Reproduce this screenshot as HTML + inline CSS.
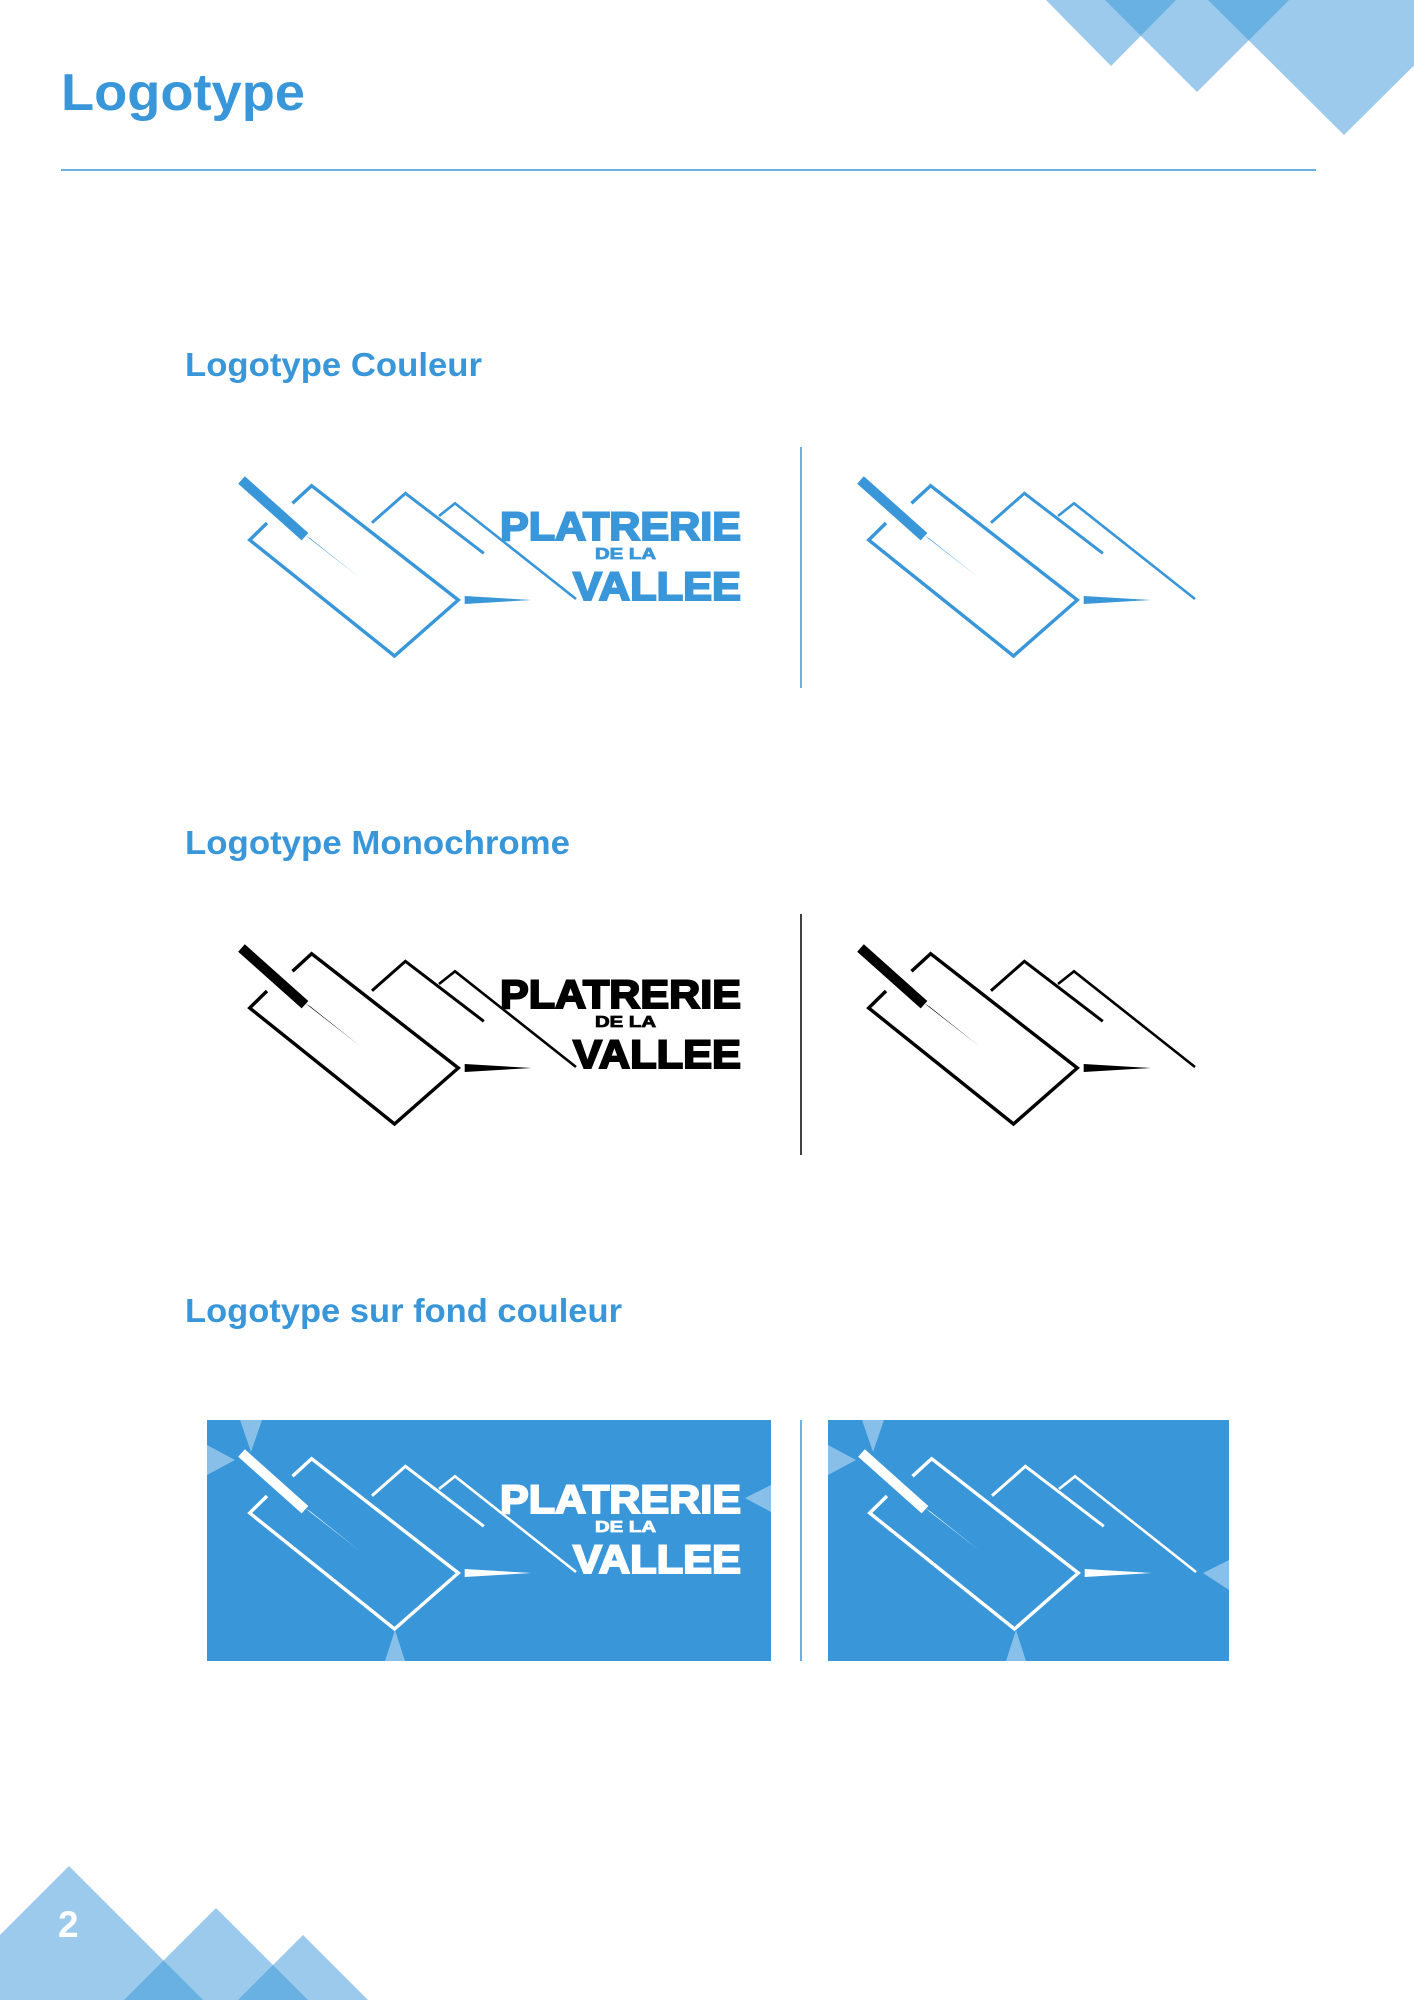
<!DOCTYPE html>
<html><head><meta charset="utf-8"><style>html,body{margin:0;padding:0;background:#fff}svg{display:block}</style></head>
<body>
<svg width="1414" height="2000" viewBox="0 0 1414 2000" xmlns="http://www.w3.org/2000/svg" font-family="Liberation Sans, sans-serif">
<defs>
<g id="icon">
  <line x1="241.5" y1="480" x2="305" y2="536.7" stroke-width="10"/>
  <polygon points="305.5,535.5 310.5,538.5 360,578" stroke="none"/>
  <polyline points="292.5,503.3 311.6,485.7 458.3,600 394.5,656 249.7,540 267,523" fill="none" stroke-width="3.4"/>
  <polyline points="372,522.7 405.4,493.3 483.8,553.3" fill="none" stroke-width="3"/>
  <polyline points="439,516 455,503.3 576,599" fill="none" stroke-width="2.6"/>
  <polygon points="464.7,596 531.6,600 464.7,604" stroke="none"/>
</g>
</defs>
<g fill="#3896d9" fill-opacity="0.5">
  <polygon points="1046,0 1176,0 1111,66"/>
  <polygon points="1105,0 1289,0 1197,92"/>
  <polygon points="1208,0 1480,0 1344,135"/>
  <polygon points="-65,2000 69,1866 203,2000"/>
  <polygon points="124,2000 216,1908 308,2000"/>
  <polygon points="238,2000 303,1935 368,2000"/>
</g>
<text x="61" y="110" font-size="52" font-weight="bold" fill="#3896d9" textLength="244" lengthAdjust="spacingAndGlyphs">Logotype</text>
<line x1="61" y1="170" x2="1316" y2="170" stroke="#3896d9" stroke-width="1.5"/>
<text x="58" y="1937" font-size="37" font-weight="bold" fill="#fff">2</text>

<g font-size="33" font-weight="bold" fill="#3896d9">
<text x="185" y="376" textLength="297" lengthAdjust="spacingAndGlyphs">Logotype Couleur</text>
<text x="185" y="854" textLength="385" lengthAdjust="spacingAndGlyphs">Logotype Monochrome</text>
<text x="185" y="1322" textLength="437" lengthAdjust="spacingAndGlyphs">Logotype sur fond couleur</text>
</g>

<g fill="#3896d9" stroke="#3896d9">
  <use href="#icon"/>
  <use href="#icon" transform="translate(619,0)"/>
  <g font-weight="bold" stroke-width="2">
  <text x="500" y="540" font-size="40" textLength="241" lengthAdjust="spacingAndGlyphs">PLATRERIE</text>
  <text x="595" y="559" font-size="16" stroke-width="0.8" textLength="61" lengthAdjust="spacingAndGlyphs">DE LA</text>
  <text x="573" y="600" font-size="40" textLength="168" lengthAdjust="spacingAndGlyphs">VALLEE</text>
  </g>
</g>
<line x1="801" y1="447" x2="801" y2="688" stroke="#3896d9" stroke-width="1.5"/>

<g fill="#000" stroke="#000" transform="translate(0,468)">
  <use href="#icon"/>
  <use href="#icon" transform="translate(619,0)"/>
  <g font-weight="bold" stroke-width="2">
  <text x="500" y="540" font-size="40" textLength="241" lengthAdjust="spacingAndGlyphs">PLATRERIE</text>
  <text x="595" y="559" font-size="16" stroke-width="0.8" textLength="61" lengthAdjust="spacingAndGlyphs">DE LA</text>
  <text x="573" y="600" font-size="40" textLength="168" lengthAdjust="spacingAndGlyphs">VALLEE</text>
  </g>
</g>
<line x1="801" y1="914" x2="801" y2="1155" stroke="#000" stroke-width="1.5"/>

<rect x="207" y="1420" width="564" height="241" fill="#3896d9"/>
<rect x="828" y="1420" width="401" height="241" fill="#3896d9"/>
<line x1="801" y1="1420" x2="801" y2="1661" stroke="#3896d9" stroke-width="1.5"/>
<g fill="#9ccaed" opacity="0.8">
  <polygon points="240,1420 262,1420 251,1452"/>
  <polygon points="207,1445 235,1460 207,1475"/>
  <polygon points="385,1661 395,1630 405,1661"/>
  <polygon points="771,1485 745,1498 771,1512"/>
  <polygon points="862,1420 884,1420 873,1452"/>
  <polygon points="828,1445 856,1460 828,1475"/>
  <polygon points="1006,1661 1016,1630 1026,1661"/>
  <polygon points="1229,1560 1203,1573 1229,1590"/>
</g>
<g fill="#fff" stroke="#fff" transform="translate(0,973)">
  <use href="#icon"/>
  <use href="#icon" transform="translate(620,0)"/>
  <g font-weight="bold" stroke-width="2">
  <text x="500" y="540" font-size="40" textLength="241" lengthAdjust="spacingAndGlyphs">PLATRERIE</text>
  <text x="595" y="559" font-size="16" stroke-width="0.8" textLength="61" lengthAdjust="spacingAndGlyphs">DE LA</text>
  <text x="573" y="600" font-size="40" textLength="168" lengthAdjust="spacingAndGlyphs">VALLEE</text>
  </g>
</g>
</svg>
</body></html>
